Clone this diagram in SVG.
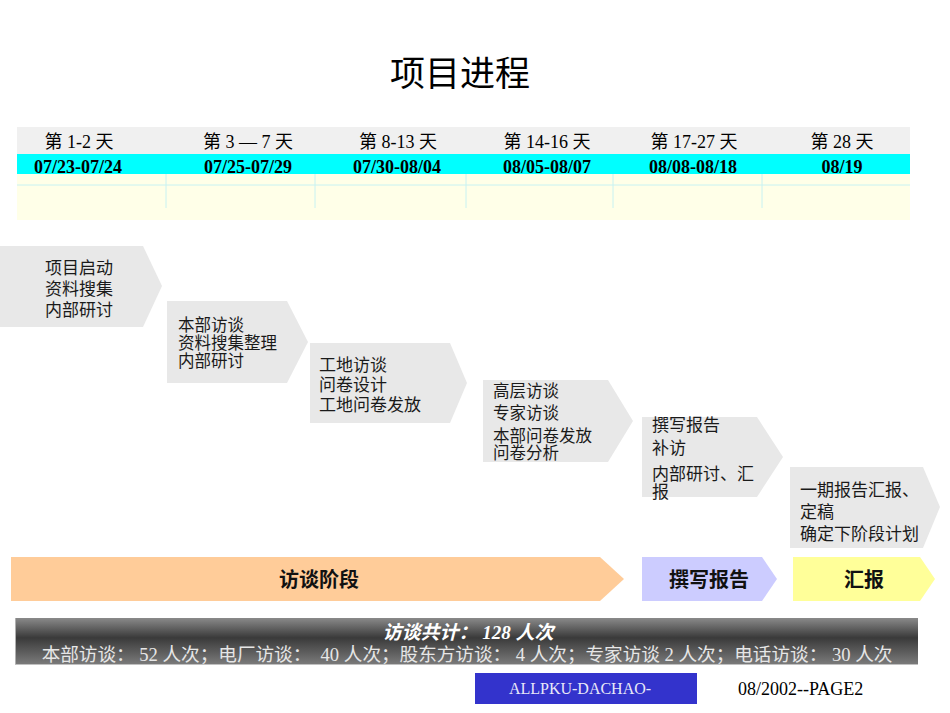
<svg xmlns="http://www.w3.org/2000/svg" width="950" height="713" viewBox="0 0 950 713">
<defs>
<linearGradient id="gbar" x1="0" y1="0" x2="0" y2="1">
<stop offset="0" stop-color="#8a8a8a"/>
<stop offset="0.42" stop-color="#3a3a3a"/>
<stop offset="1" stop-color="#7c7c7c"/>
</linearGradient>
<style>
.cjk{font-family:"Noto Sans CJK SC","Noto Sans",sans-serif;}
.hd{font-family:"Liberation Serif","Noto Sans CJK SC",serif;font-size:18px;fill:#000;text-anchor:middle;}
.dt{font-family:"Liberation Serif",serif;font-size:18px;font-weight:bold;fill:#000;text-anchor:middle;}
.chev{fill:#e8e8e8;}
.ct{font-family:"Noto Sans CJK SC",sans-serif;font-size:17px;fill:#1a1a1a;}
.ct2{font-family:"Noto Sans CJK SC",sans-serif;font-size:16.5px;fill:#1a1a1a;}
.ph{font-family:"Noto Sans CJK SC",sans-serif;font-size:20px;font-weight:bold;fill:#111;text-anchor:middle;}
.grid{stroke:#c8f2f2;stroke-width:1;fill:none;}
</style>
</defs>
<rect width="950" height="713" fill="#fff"/>

<g id="title">
<text x="460" y="86" class="cjk" font-size="35" text-anchor="middle" fill="#000">项目进程</text>
</g>

<g id="timeline">
<rect x="17" y="127" width="893" height="27" fill="#f0f0f0"/>
<rect x="17" y="154" width="893" height="20" fill="#00ffff"/>
<rect x="17" y="174" width="893" height="46" fill="#ffffe8"/>
<line class="grid" x1="17" y1="185" x2="910" y2="185"/>
<line class="grid" x1="166" y1="174" x2="166" y2="208"/>
<line class="grid" x1="315" y1="174" x2="315" y2="208"/>
<line class="grid" x1="466" y1="174" x2="466" y2="208"/>
<line class="grid" x1="613" y1="174" x2="613" y2="208"/>
<line class="grid" x1="762" y1="174" x2="762" y2="208"/>
<text class="hd" x="79" y="148">第 1-2 天</text>
<text class="hd" x="248" y="148">第 3 — 7 天</text>
<text class="hd" x="398" y="148">第 8-13 天</text>
<text class="hd" x="547" y="148">第 14-16 天</text>
<text class="hd" x="694" y="148">第 17-27 天</text>
<text class="hd" x="842" y="148">第 28 天</text>
<text class="dt" x="78" y="173">07/23-07/24</text>
<text class="dt" x="248" y="173">07/25-07/29</text>
<text class="dt" x="397" y="173">07/30-08/04</text>
<text class="dt" x="547" y="173">08/05-08/07</text>
<text class="dt" x="693" y="173">08/08-08/18</text>
<text class="dt" x="842" y="173">08/19</text>
</g>

<g id="step1">
<polygon class="chev" points="0,246 143,246 162,286 143,327 0,327"/>
<text class="ct" x="45" y="274">项目启动</text>
<text class="ct" x="45" y="295">资料搜集</text>
<text class="ct" x="45" y="316">内部研讨</text>
</g>
<g id="step2">
<polygon class="chev" points="167,301 287,301 308,342 287,383 167,383"/>
<text class="ct2" x="178" y="331">本部访谈</text>
<text class="ct2" x="178" y="349">资料搜集整理</text>
<text class="ct2" x="178" y="367">内部研讨</text>
</g>
<g id="step3">
<polygon class="chev" points="310,343 450,343 467,383 450,423 310,423"/>
<text class="ct" x="319" y="371">工地访谈</text>
<text class="ct" x="319" y="391">问卷设计</text>
<text class="ct" x="319" y="411">工地问卷发放</text>
</g>
<g id="step4">
<polygon class="chev" points="483,380 608,380 633,421 608,462 483,462"/>
<text class="ct2" x="493" y="397">高层访谈</text>
<text class="ct2" x="493" y="419">专家访谈</text>
<text class="ct2" x="493" y="442">本部问卷发放</text>
<text class="ct2" x="493" y="459">问卷分析</text>
</g>
<g id="step5">
<polygon class="chev" points="642,417 757,417 783,457 757,497 642,497"/>
<text class="ct" x="652" y="431">撰写报告</text>
<text class="ct" x="652" y="454">补访</text>
<text class="ct" x="652" y="480">内部研讨、汇</text>
<text class="ct" x="652" y="498">报</text>
</g>
<g id="step6">
<polygon class="chev" points="790,467 923,467 940,507 923,548 790,548"/>
<text class="ct" x="800" y="496">一期报告汇报、</text>
<text class="ct" x="800" y="518">定稿</text>
<text class="ct" x="800" y="540">确定下阶段计划</text>
</g>

<g id="phase-interview">
<polygon points="11,557 600,557 624,579 600,601 11,601" fill="#ffcc99"/>
<text class="ph" x="319" y="587">访谈阶段</text>
</g>
<g id="phase-writing">
<polygon points="642,557 762,557 777,579 762,601 642,601" fill="#ccccff"/>
<text class="ph" x="709" y="587">撰写报告</text>
</g>
<g id="phase-report">
<polygon points="793,557 920,557 935,579 920,601 793,601" fill="#ffff99"/>
<text class="ph" x="864" y="587">汇报</text>
</g>

<g id="summary">
<rect x="15" y="618" width="903" height="47" fill="url(#gbar)"/>
<line x1="15.5" y1="618" x2="15.5" y2="665" stroke="#b0b0b0"/>
<line x1="15" y1="664.5" x2="918" y2="664.5" stroke="#c0c0c0"/>
<text x="468" y="639" text-anchor="middle" font-family="Liberation Serif,'Noto Sans CJK SC',serif" font-size="19" font-weight="bold" font-style="italic" fill="#fff" xml:space="preserve">访谈共计： 128 人次</text>
<text x="467" y="661" text-anchor="middle" font-family="Liberation Serif,'Noto Sans CJK SC',serif" font-size="18.6" fill="#e6e6e6" xml:space="preserve">本部访谈： 52 人次；电厂访谈：  40 人次；股东方访谈： 4 人次；专家访谈 2 人次；电话访谈： 30 人次</text>
</g>

<g id="footer">
<rect x="475" y="673" width="222" height="31" fill="#3333cc"/>
<text x="580" y="694" text-anchor="middle" font-family="Liberation Serif,serif" font-size="16" fill="#e8e8f8">ALLPKU-DACHAO-</text>
<text x="738" y="695" font-family="Liberation Serif,serif" font-size="18" fill="#000">08/2002--PAGE2</text>
</g>
</svg>
